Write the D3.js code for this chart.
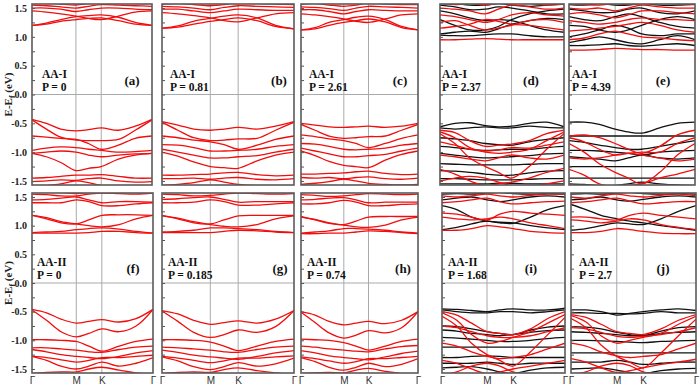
<!DOCTYPE html>
<html><head><meta charset="utf-8">
<script src="https://cdn.jsdelivr.net/npm/d3@7"></script>
<style>html,body{margin:0;padding:0;background:#fff;}svg{display:block;}</style>
</head><body><svg id="chart" width="700" height="386"></svg>
<script>
// ---- k-path and axis labels ----
const kNodes = [0, 0.12, 0.24, 0.366, 0.47, 0.577, 0.72, 0.86, 1];
const kTickPos = [0, 0.366, 0.577, 1];
const kTickLabels = ["Γ", "M", "K", "Γ"];
const eTicks = [1.5, 1.0, 0.5, 0.0, -0.5, -1.0, -1.5];
const eMinorTicks = [-1.5,-1.25,-1.0,-0.75,-0.5,-0.25,0,0.25,0.5,0.75,1.0,1.25,1.5];
const panelIds = ["a","b","c","d","e","f","g","h","i","j"];
const structures = ["AA-I","AA-I","AA-I","AA-I","AA-I","AA-II","AA-II","AA-II","AA-II","AA-II"];
const pressures = ["0","0.81","2.61","2.37","4.39","0","0.185","0.74","1.68","2.7"];

// ---- bands (E - Ef in eV at kNodes) ----
const red_a = [
 [1.20,1.22,1.27,1.30,1.32,1.33,1.28,1.22,1.20],
 [1.20,1.24,1.30,1.35,1.37,1.38,1.34,1.25,1.20],
 [1.45,1.43,1.40,1.36,1.32,1.30,1.36,1.43,1.45],
 [1.50,1.50,1.48,1.44,1.47,1.50,1.50,1.48,1.47],
 [1.55,1.54,1.52,1.50,1.53,1.56,1.55,1.54,1.53],
 [1.58,1.60,1.57,1.55,1.58,1.62,1.60,1.58,1.58],
 [-0.43,-0.50,-0.60,-0.63,-0.61,-0.58,-0.62,-0.55,-0.43],
 [-0.44,-0.60,-0.74,-0.79,-0.80,-0.80,-0.78,-0.62,-0.44],
 [-0.72,-0.74,-0.76,-0.78,-0.85,-0.95,-0.88,-0.76,-0.72],
 [-0.97,-0.93,-0.91,-0.92,-0.95,-0.97,-1.00,-0.99,-0.97],
 [-1.02,-1.00,-0.98,-1.00,-1.05,-1.08,-1.05,-1.03,-1.02],
 [-1.02,-1.08,-1.18,-1.32,-1.28,-1.25,-1.12,-1.05,-1.02],
 [-1.45,-1.44,-1.42,-1.40,-1.40,-1.39,-1.42,-1.45,-1.45],
 [-1.51,-1.50,-1.48,-1.49,-1.46,-1.45,-1.50,-1.52,-1.51],
 [-1.60,-1.58,-1.55,-1.50,-1.53,-1.58,-1.60,-1.60,-1.60]
];
const black_a = [];
const red_b = [
 [1.15,1.17,1.22,1.27,1.30,1.33,1.28,1.18,1.14],
 [1.15,1.19,1.27,1.32,1.36,1.38,1.33,1.20,1.14],
 [1.42,1.40,1.37,1.33,1.28,1.26,1.33,1.40,1.42],
 [1.48,1.48,1.45,1.42,1.45,1.48,1.47,1.46,1.46],
 [1.53,1.52,1.50,1.47,1.51,1.54,1.53,1.52,1.51],
 [1.57,1.58,1.56,1.54,1.56,1.60,1.58,1.57,1.56],
 [-0.47,-0.53,-0.60,-0.62,-0.60,-0.57,-0.60,-0.55,-0.47],
 [-0.48,-0.62,-0.75,-0.80,-0.79,-0.77,-0.76,-0.62,-0.48],
 [-0.72,-0.75,-0.79,-0.82,-0.87,-0.95,-0.88,-0.78,-0.72],
 [-0.87,-0.88,-0.92,-0.98,-0.98,-0.97,-0.95,-0.90,-0.87],
 [-0.95,-1.00,-1.05,-1.10,-1.10,-1.08,-1.06,-1.00,-0.95],
 [-1.00,-1.07,-1.17,-1.25,-1.27,-1.28,-1.15,-1.05,-1.00],
 [-1.40,-1.40,-1.39,-1.38,-1.36,-1.35,-1.39,-1.41,-1.40],
 [-1.46,-1.46,-1.45,-1.47,-1.45,-1.44,-1.47,-1.48,-1.46],
 [-1.58,-1.56,-1.53,-1.48,-1.52,-1.56,-1.58,-1.58,-1.58]
];
const black_b = [];
const red_c = [
 [1.12,1.14,1.20,1.25,1.28,1.31,1.26,1.16,1.12],
 [1.12,1.16,1.25,1.30,1.34,1.36,1.30,1.18,1.12],
 [1.40,1.38,1.35,1.31,1.27,1.25,1.31,1.38,1.40],
 [1.47,1.47,1.44,1.40,1.44,1.47,1.46,1.45,1.45],
 [1.52,1.51,1.49,1.46,1.50,1.53,1.52,1.51,1.50],
 [1.57,1.58,1.55,1.53,1.55,1.59,1.57,1.56,1.56],
 [-0.50,-0.53,-0.56,-0.57,-0.56,-0.55,-0.57,-0.55,-0.50],
 [-0.52,-0.62,-0.72,-0.76,-0.75,-0.73,-0.72,-0.62,-0.52],
 [-0.70,-0.73,-0.77,-0.80,-0.85,-0.92,-0.85,-0.76,-0.70],
 [-0.85,-0.86,-0.90,-0.95,-0.96,-0.95,-0.93,-0.88,-0.85],
 [-0.93,-0.98,-1.03,-1.08,-1.08,-1.06,-1.04,-0.98,-0.93],
 [-0.98,-1.06,-1.16,-1.23,-1.25,-1.27,-1.14,-1.04,-0.98],
 [-1.38,-1.38,-1.37,-1.36,-1.34,-1.33,-1.37,-1.39,-1.38],
 [-1.44,-1.45,-1.44,-1.46,-1.44,-1.43,-1.46,-1.47,-1.45],
 [-1.56,-1.54,-1.51,-1.47,-1.50,-1.54,-1.56,-1.57,-1.56]
];
const black_c = [];
const red_d = [
 [0.95,0.95,0.96,0.97,0.96,0.95,0.95,0.95,0.95],
 [1.15,1.18,1.22,1.30,1.27,1.22,1.20,1.16,1.12],
 [1.25,1.28,1.20,1.12,1.15,1.20,1.28,1.30,1.25],
 [1.38,1.35,1.30,1.25,1.30,1.38,1.42,1.38,1.36],
 [1.50,1.48,1.45,1.40,1.48,1.55,1.52,1.48,1.50],
 [1.58,1.56,1.58,1.55,1.58,1.60,1.58,1.55,1.57],
 [-0.62,-0.66,-0.80,-0.90,-0.88,-0.86,-0.80,-0.68,-0.62],
 [-0.65,-0.75,-0.92,-1.00,-1.02,-1.00,-0.95,-0.80,-0.65],
 [-0.68,-0.85,-1.10,-1.25,-1.35,-1.45,-1.25,-0.95,-0.68],
 [-0.82,-0.88,-0.95,-0.98,-0.96,-0.92,-0.93,-0.88,-0.82],
 [-1.05,-1.08,-1.12,-1.15,-1.10,-1.05,-1.10,-1.12,-1.05],
 [-1.30,-1.38,-1.50,-1.58,-1.55,-1.52,-1.45,-1.35,-1.28],
 [-1.50,-1.45,-1.42,-1.45,-1.52,-1.58,-1.60,-1.55,-1.50]
];
const black_d = [
 [1.03,1.02,1.02,1.04,1.05,1.05,1.02,1.00,1.00],
 [1.05,1.08,1.10,1.08,1.14,1.22,1.28,1.32,1.30],
 [1.30,1.20,1.12,1.12,1.18,1.30,1.40,1.45,1.48],
 [1.45,1.40,1.33,1.28,1.30,1.28,1.20,1.12,1.08],
 [1.55,1.52,1.47,1.48,1.52,1.50,1.45,1.40,1.40],
 [1.60,1.58,1.55,1.55,1.58,1.55,1.53,1.55,1.57],
 [-0.56,-0.50,-0.49,-0.54,-0.56,-0.55,-0.50,-0.48,-0.56],
 [-0.58,-0.60,-0.58,-0.56,-0.58,-0.58,-0.55,-0.57,-0.58],
 [-0.75,-0.77,-0.80,-0.85,-0.87,-0.88,-0.82,-0.78,-0.75],
 [-0.90,-0.92,-0.95,-0.97,-0.96,-0.95,-0.95,-0.92,-0.90],
 [-1.02,-1.05,-1.08,-1.10,-1.09,-1.08,-1.06,-1.03,-1.02],
 [-1.20,-1.21,-1.22,-1.22,-1.22,-1.22,-1.21,-1.20,-1.20],
 [-1.32,-1.33,-1.35,-1.38,-1.40,-1.40,-1.36,-1.33,-1.32],
 [-1.46,-1.46,-1.47,-1.48,-1.48,-1.48,-1.47,-1.46,-1.46],
 [-1.55,-1.55,-1.55,-1.55,-1.54,-1.54,-1.55,-1.55,-1.55]
];
const red_e = [
 [0.77,0.77,0.78,0.80,0.79,0.78,0.78,0.77,0.77],
 [0.95,0.98,1.05,1.10,1.05,1.00,0.98,0.95,0.93],
 [1.10,1.12,1.15,1.18,1.22,1.25,1.20,1.12,1.08],
 [1.28,1.25,1.22,1.25,1.30,1.33,1.30,1.30,1.28],
 [1.40,1.42,1.38,1.33,1.38,1.45,1.45,1.42,1.40],
 [1.50,1.48,1.50,1.45,1.50,1.55,1.52,1.50,1.50],
 [1.58,1.56,1.55,1.58,1.56,1.58,1.60,1.57,1.56],
 [-0.72,-0.70,-0.75,-0.85,-0.95,-1.02,-0.90,-0.70,-0.62],
 [-0.75,-0.82,-0.95,-1.05,-1.02,-1.00,-1.00,-0.85,-0.75],
 [-0.85,-1.00,-1.20,-1.35,-1.45,-1.55,-1.35,-1.05,-0.85],
 [-1.10,-1.12,-1.10,-1.05,-1.02,-1.05,-1.10,-1.15,-1.12],
 [-1.30,-1.40,-1.55,-1.60,-1.58,-1.55,-1.45,-1.38,-1.30]
];
const black_e = [
 [0.85,0.85,0.86,0.88,0.85,0.84,0.86,0.88,0.85],
 [0.90,0.95,1.00,0.95,0.90,0.88,0.95,1.02,0.95],
 [1.00,1.05,1.12,1.20,1.15,1.05,1.02,1.05,1.05],
 [1.20,1.18,1.12,1.08,1.12,1.20,1.30,1.35,1.30],
 [1.35,1.30,1.28,1.35,1.40,1.35,1.25,1.18,1.15],
 [1.48,1.45,1.42,1.43,1.48,1.50,1.42,1.40,1.45],
 [1.56,1.55,1.58,1.55,1.55,1.58,1.55,1.55,1.57],
 [-0.48,-0.48,-0.52,-0.60,-0.65,-0.67,-0.58,-0.50,-0.48],
 [-0.72,-0.72,-0.72,-0.72,-0.72,-0.72,-0.72,-0.72,-0.72],
 [-0.80,-0.83,-0.88,-0.92,-0.95,-0.95,-0.90,-0.85,-0.80],
 [-0.97,-0.97,-0.98,-1.00,-1.02,-1.05,-1.00,-0.98,-0.97],
 [-1.08,-1.10,-1.12,-1.15,-1.10,-1.05,-1.10,-1.12,-1.10],
 [-1.25,-1.25,-1.25,-1.25,-1.25,-1.25,-1.25,-1.25,-1.25],
 [-1.45,-1.45,-1.45,-1.45,-1.45,-1.45,-1.45,-1.45,-1.45],
 [-1.55,-1.56,-1.58,-1.58,-1.55,-1.52,-1.55,-1.57,-1.58]
];
const red_f = [
 [0.87,0.87,0.87,0.87,0.88,0.90,0.90,0.88,0.87],
 [0.88,0.89,0.90,0.93,0.95,0.96,0.94,0.90,0.87],
 [1.18,1.14,1.07,1.03,1.00,0.98,1.02,1.12,1.18],
 [1.18,1.12,1.05,1.03,1.10,1.18,1.19,1.19,1.18],
 [1.40,1.40,1.40,1.45,1.42,1.35,1.35,1.38,1.40],
 [1.45,1.46,1.48,1.50,1.45,1.40,1.42,1.42,1.41],
 [1.55,1.54,1.52,1.52,1.55,1.57,1.56,1.55,1.57],
 [1.58,1.60,1.58,1.56,1.58,1.60,1.60,1.58,1.58],
 [-0.46,-0.52,-0.63,-0.70,-0.67,-0.64,-0.68,-0.62,-0.46],
 [-0.47,-0.65,-0.85,-0.94,-0.88,-0.80,-0.85,-0.75,-0.46],
 [-0.99,-0.99,-1.00,-1.02,-1.10,-1.19,-1.10,-1.02,-0.98],
 [-1.13,-1.13,-1.15,-1.17,-1.20,-1.21,-1.16,-1.12,-1.10],
 [-1.16,-1.20,-1.25,-1.28,-1.30,-1.32,-1.28,-1.22,-1.18],
 [-1.28,-1.30,-1.34,-1.38,-1.35,-1.30,-1.30,-1.28,-1.26],
 [-1.28,-1.35,-1.45,-1.50,-1.45,-1.38,-1.45,-1.40,-1.30],
 [-1.58,-1.56,-1.55,-1.55,-1.50,-1.47,-1.52,-1.57,-1.60]
];
const black_f = [];
const red_g = [
 [0.88,0.88,0.88,0.88,0.90,0.92,0.91,0.89,0.88],
 [0.89,0.90,0.92,0.96,0.96,0.95,0.93,0.90,0.88],
 [1.17,1.13,1.07,1.02,0.99,0.98,1.02,1.12,1.17],
 [1.18,1.12,1.05,1.03,1.10,1.17,1.18,1.18,1.18],
 [1.40,1.40,1.41,1.45,1.42,1.36,1.36,1.38,1.40],
 [1.46,1.47,1.49,1.50,1.46,1.41,1.42,1.42,1.42],
 [1.55,1.54,1.52,1.53,1.55,1.57,1.56,1.55,1.56],
 [-0.48,-0.54,-0.65,-0.72,-0.69,-0.66,-0.70,-0.63,-0.48],
 [-0.49,-0.67,-0.86,-0.95,-0.90,-0.82,-0.86,-0.76,-0.48],
 [-0.99,-0.99,-1.00,-1.03,-1.10,-1.18,-1.10,-1.02,-0.98],
 [-1.12,-1.13,-1.15,-1.17,-1.20,-1.21,-1.16,-1.12,-1.10],
 [-1.17,-1.21,-1.26,-1.29,-1.31,-1.33,-1.28,-1.22,-1.18],
 [-1.28,-1.31,-1.35,-1.39,-1.36,-1.31,-1.31,-1.29,-1.27],
 [-1.29,-1.36,-1.46,-1.51,-1.46,-1.39,-1.45,-1.41,-1.31],
 [-1.58,-1.56,-1.55,-1.56,-1.51,-1.48,-1.53,-1.57,-1.60]
];
const black_g = [];
const red_h = [
 [0.86,0.86,0.87,0.87,0.89,0.91,0.90,0.88,0.86],
 [0.87,0.89,0.91,0.95,0.95,0.94,0.92,0.89,0.87],
 [1.15,1.11,1.05,1.01,0.98,0.97,1.01,1.10,1.15],
 [1.16,1.10,1.04,1.02,1.08,1.15,1.16,1.16,1.16],
 [1.38,1.38,1.40,1.44,1.41,1.35,1.35,1.37,1.38],
 [1.45,1.46,1.48,1.49,1.45,1.40,1.41,1.41,1.41],
 [1.54,1.53,1.51,1.52,1.54,1.56,1.55,1.54,1.55],
 [-0.50,-0.56,-0.67,-0.73,-0.70,-0.67,-0.71,-0.65,-0.50],
 [-0.51,-0.69,-0.87,-0.96,-0.91,-0.83,-0.87,-0.78,-0.50],
 [-0.98,-0.99,-1.00,-1.04,-1.10,-1.17,-1.10,-1.02,-0.98],
 [-1.10,-1.12,-1.15,-1.17,-1.19,-1.20,-1.15,-1.11,-1.09],
 [-1.18,-1.22,-1.27,-1.30,-1.32,-1.34,-1.29,-1.23,-1.19],
 [-1.29,-1.32,-1.36,-1.40,-1.37,-1.32,-1.32,-1.30,-1.28],
 [-1.30,-1.37,-1.47,-1.52,-1.47,-1.40,-1.46,-1.42,-1.32],
 [-1.58,-1.57,-1.56,-1.57,-1.52,-1.49,-1.54,-1.58,-1.60]
];
const black_h = [];
const red_i = [
 [0.92,0.92,0.95,1.00,0.98,0.95,0.90,0.88,0.87],
 [1.15,1.12,1.10,1.12,1.15,1.12,1.05,1.00,0.95],
 [1.22,1.20,1.15,1.10,1.20,1.25,1.22,1.20,1.18],
 [1.40,1.42,1.45,1.48,1.42,1.38,1.40,1.42,1.43],
 [1.52,1.50,1.52,1.55,1.52,1.50,1.53,1.55,1.55],
 [1.58,1.58,1.60,1.58,1.60,1.58,1.58,1.60,1.60],
 [-0.50,-0.56,-0.70,-0.85,-0.88,-0.90,-0.80,-0.62,-0.50],
 [-0.52,-0.65,-0.90,-1.05,-1.02,-0.95,-0.85,-0.70,-0.55],
 [-0.58,-0.75,-1.05,-1.25,-1.35,-1.45,-1.20,-0.90,-0.60],
 [-0.75,-0.78,-0.85,-0.92,-0.95,-0.95,-0.92,-0.85,-0.78],
 [-1.05,-1.10,-1.20,-1.28,-1.32,-1.30,-1.25,-1.15,-1.05],
 [-1.35,-1.40,-1.50,-1.58,-1.55,-1.50,-1.45,-1.40,-1.35],
 [-1.60,-1.55,-1.45,-1.40,-1.45,-1.55,-1.60,-1.58,-1.58]
];
const black_i = [
 [0.93,0.97,1.03,1.08,1.05,1.04,1.15,1.28,1.35],
 [1.35,1.28,1.15,1.08,1.06,1.05,1.00,0.96,0.93],
 [1.45,1.48,1.50,1.45,1.42,1.45,1.50,1.52,1.50],
 [1.55,1.56,1.55,1.57,1.58,1.56,1.55,1.56,1.55],
 [-0.45,-0.46,-0.48,-0.50,-0.47,-0.45,-0.47,-0.47,-0.44],
 [-0.47,-0.50,-0.52,-0.52,-0.50,-0.50,-0.52,-0.50,-0.47],
 [-0.75,-0.76,-0.80,-0.85,-0.88,-0.90,-0.82,-0.77,-0.75],
 [-0.82,-0.84,-0.88,-0.90,-0.92,-0.90,-0.86,-0.83,-0.82],
 [-0.95,-0.96,-0.98,-1.00,-1.02,-1.02,-1.00,-0.97,-0.95],
 [-1.12,-1.12,-1.12,-1.12,-1.12,-1.12,-1.12,-1.12,-1.12],
 [-1.30,-1.30,-1.28,-1.27,-1.28,-1.30,-1.30,-1.30,-1.30],
 [-1.40,-1.40,-1.40,-1.38,-1.40,-1.42,-1.40,-1.40,-1.40],
 [-1.48,-1.47,-1.46,-1.50,-1.55,-1.58,-1.52,-1.48,-1.47]
];
const red_j = [
 [0.88,0.88,0.90,0.95,0.93,0.90,0.87,0.86,0.86],
 [1.10,1.08,1.05,1.08,1.12,1.10,1.02,0.97,0.93],
 [1.15,1.15,1.12,1.10,1.18,1.22,1.18,1.15,1.12],
 [1.40,1.42,1.45,1.48,1.43,1.38,1.40,1.42,1.42],
 [1.50,1.48,1.52,1.55,1.52,1.50,1.53,1.55,1.52],
 [1.58,1.58,1.60,1.58,1.60,1.58,1.58,1.60,1.58],
 [-0.55,-0.60,-0.72,-0.85,-0.88,-0.90,-0.80,-0.65,-0.55],
 [-0.57,-0.68,-0.92,-1.05,-1.00,-0.95,-0.88,-0.72,-0.58],
 [-0.62,-0.78,-1.08,-1.28,-1.38,-1.48,-1.22,-0.92,-0.63],
 [-0.78,-0.80,-0.86,-0.93,-0.95,-0.93,-0.90,-0.85,-0.78],
 [-1.05,-1.10,-1.20,-1.27,-1.30,-1.28,-1.25,-1.15,-1.05],
 [-1.32,-1.38,-1.48,-1.56,-1.53,-1.48,-1.42,-1.38,-1.33],
 [-1.60,-1.55,-1.45,-1.40,-1.44,-1.55,-1.60,-1.58,-1.58]
];
const black_j = [
 [0.92,0.95,1.00,1.05,1.03,1.02,1.12,1.25,1.35],
 [1.37,1.28,1.18,1.12,1.08,1.05,1.00,0.96,0.92],
 [1.45,1.47,1.50,1.45,1.43,1.46,1.50,1.52,1.50],
 [1.55,1.56,1.55,1.57,1.58,1.56,1.55,1.56,1.55],
 [-0.47,-0.47,-0.50,-0.56,-0.53,-0.50,-0.47,-0.45,-0.48],
 [-0.52,-0.52,-0.53,-0.53,-0.54,-0.53,-0.50,-0.52,-0.52],
 [-0.76,-0.77,-0.80,-0.86,-0.90,-0.92,-0.84,-0.78,-0.76],
 [-0.85,-0.86,-0.88,-0.90,-0.92,-0.92,-0.88,-0.86,-0.85],
 [-1.00,-1.00,-1.01,-1.02,-1.03,-1.04,-1.02,-1.01,-1.00],
 [-1.22,-1.22,-1.22,-1.22,-1.22,-1.22,-1.22,-1.22,-1.22],
 [-1.38,-1.38,-1.38,-1.35,-1.38,-1.42,-1.40,-1.38,-1.38],
 [-1.50,-1.49,-1.48,-1.52,-1.56,-1.58,-1.53,-1.50,-1.49]
];
const redBands = [red_a, red_b, red_c, red_d, red_e, red_f, red_g, red_h, red_i, red_j];
const blackBands = [black_a, black_b, black_c, black_d, black_e, black_f, black_g, black_h, black_i, black_j];

// ---- layout ----
const rowY = [[4, 185], [193, 373]];
const colX = [
  [[32,152],[162,294],[301,418],[440,564],[569,695]],
  [[32,153],[162,294],[301,418],[442,565],[571,696]]
];
const labelLeft = [[42,170,309,442,572],[37,168,307,448,579]];
const idRight = [[20,15,18,33,32],[20,14,15,34,33]];
const eDomain = [-1.57, 1.57];

const svg = d3.select("#chart");
const defs = svg.append("defs");
const serif = "'Liberation Serif','Times New Roman',serif";

panelIds.forEach((id, p) => {
  const row = Math.floor(p / 5), col = p % 5;
  const [x0, x1] = colX[row][col];
  const [y0, y1] = rowY[row];
  const x = d3.scaleLinear().domain([0, 1]).range([x0, x1]);
  const y = d3.scaleLinear().domain(eDomain).range([y1, y0]);
  const g = svg.append("g");

  defs.append("clipPath").attr("id", "clip" + id)
    .append("rect").attr("x", x0).attr("y", y0).attr("width", x1 - x0).attr("height", y1 - y0);

  // grid lines at M, K and E=0
  g.selectAll(".vg").data(kTickPos.slice(1, 3)).join("line")
    .attr("x1", d => x(d)).attr("x2", d => x(d)).attr("y1", y0).attr("y2", y1)
    .attr("stroke", "#aaa").attr("stroke-width", 1);
  g.append("line").attr("x1", x0).attr("x2", x1).attr("y1", y(0)).attr("y2", y(0))
    .attr("stroke", "#aaa").attr("stroke-width", 1);

  const line = d3.line().x((d, i) => x(kNodes[i])).y(d => y(d)).curve(d3.curveCatmullRom.alpha(0.5));
  const bands = g.append("g").attr("clip-path", `url(#clip${id})`);
  bands.selectAll(".blk").data(blackBands[p]).join("path")
    .attr("d", line).attr("fill", "none").attr("stroke", "#111").attr("stroke-width", 1.3);
  bands.selectAll(".red").data(redBands[p]).join("path")
    .attr("d", line).attr("fill", "none").attr("stroke", "#f20d0d").attr("stroke-width", 1.3);

  // y axis: minor inward ticks
  const minorAxis = d3.axisLeft(y).tickValues(eMinorTicks).tickSize(-3).tickFormat("");
  const ma = g.append("g").attr("transform", `translate(${x0},0)`).call(minorAxis);
  ma.select(".domain").remove();
  ma.selectAll("line").attr("stroke", "#555");
  if (col === 0) {
    const yAxis = d3.axisLeft(y).tickValues(eTicks).tickSize(0).tickPadding(5).tickFormat(d => d.toFixed(1));
    const ya = g.append("g").attr("transform", `translate(${x0},0)`).call(yAxis);
    ya.select(".domain").remove();
    ya.selectAll("text").attr("font-family", serif).attr("font-weight", "bold").attr("font-size", 10).attr("fill", "#222");
  }
  if (row === 1) {
    const xAxis = d3.axisBottom(x).tickValues(kTickPos).tickSize(0).tickPadding(4).tickFormat((d, i) => kTickLabels[i]);
    const xa = g.append("g").attr("transform", `translate(0,${y1})`).call(xAxis);
    xa.select(".domain").remove();
    xa.selectAll("text").attr("font-family", "'Liberation Sans',Arial,sans-serif").attr("font-size", 10).attr("fill", "#333");
  }

  // frame
  g.append("rect").attr("x", x0).attr("y", y0).attr("width", x1 - x0).attr("height", y1 - y0)
    .attr("fill", "none").attr("stroke", "#5a5a5a").attr("stroke-width", 1.6);

  // labels
  const lx = labelLeft[row][col];
  g.append("text").attr("x", lx).attr("y", y(0) - 17).text(structures[p])
    .attr("font-family", serif).attr("font-weight", "bold").attr("font-size", 11.5).attr("fill", "#111");
  g.append("text").attr("x", lx).attr("y", y(0) - 4).text("P = " + pressures[p])
    .attr("font-family", serif).attr("font-weight", "bold").attr("font-size", 11.5).attr("fill", "#111");
  g.append("text").attr("x", x1 - idRight[row][col]).attr("y", y(0) - 10).attr("text-anchor", "middle")
    .text("(" + id + ")")
    .attr("font-family", serif).attr("font-weight", "bold").attr("font-size", 13).attr("fill", "#111");

  if (col === 0) {
    const t = svg.append("text").attr("transform", `translate(12,${y(0)}) rotate(-90)`)
      .attr("text-anchor", "middle").attr("font-family", serif).attr("font-weight", "bold")
      .attr("font-size", 11).attr("fill", "#222");
    t.append("tspan").text("E-E");
    t.append("tspan").text("f").attr("font-size", 8).attr("dy", 3);
    t.append("tspan").text(" (eV)").attr("dy", -3);
  }
});
</script>
</body></html>
